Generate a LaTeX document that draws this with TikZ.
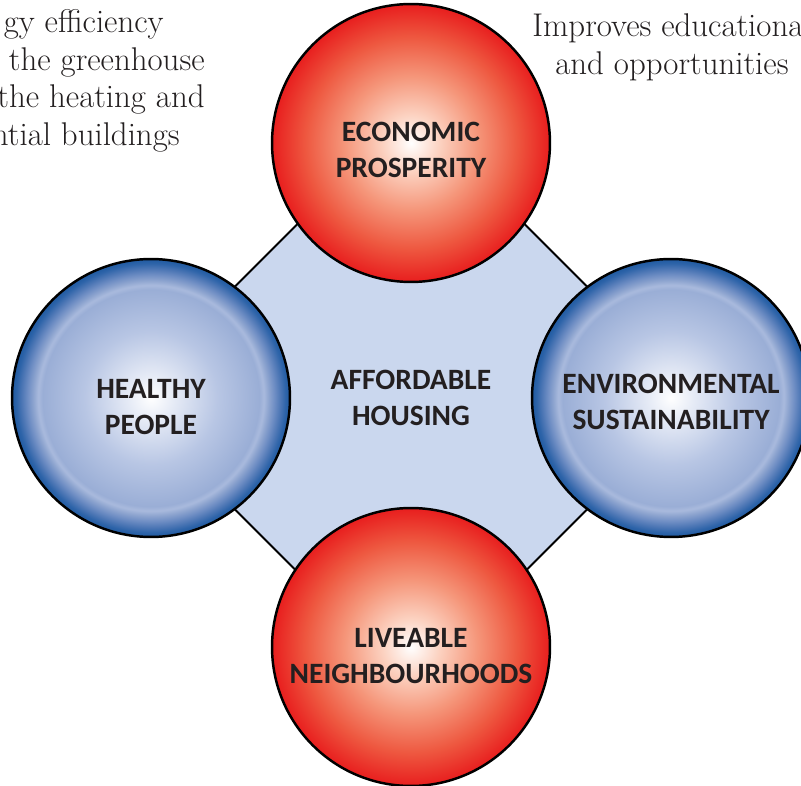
\documentclass[tikz,border=0pt]{standalone}
\usepackage{fontspec}
\newfontfamily\labelfont{Carlito}
\usetikzlibrary{shapes.geometric}

\definecolor{hubfill}{HTML}{CAD7EE}
\definecolor{inktext}{HTML}{231F20}
\definecolor{redA}{HTML}{FCD3C2}
\definecolor{redB}{HTML}{F5967A}
\definecolor{redC}{HTML}{EE5840}
\definecolor{redD}{HTML}{E81E1E}
\definecolor{blueA}{HTML}{E6EBF6}
\definecolor{blueB}{HTML}{B8C6E4}
\definecolor{blueC}{HTML}{9AAED6}
\definecolor{blueD}{HTML}{A9BADD}
\definecolor{blueE}{HTML}{8DA4CF}
\definecolor{blueF}{HTML}{6F8EC4}
\definecolor{blueG}{HTML}{4F78B6}
\definecolor{blueH}{HTML}{2E64A9}
\definecolor{blueI}{HTML}{1F5AA1}

\pgfdeclareradialshading{redball}{\pgfpoint{0bp}{0bp}}{color(0bp)=(white); color(5bp)=(redA); color(12bp)=(redB); color(19bp)=(redC); color(25bp)=(redD); color(50bp)=(redD)}
\pgfdeclareradialshading{blueball}{\pgfpoint{0bp}{0bp}}{color(0bp)=(white); color(4bp)=(blueA); color(12bp)=(blueB); color(19.5bp)=(blueC); color(20.3bp)=(blueD); color(21.2bp)=(blueE); color(22.2bp)=(blueF); color(23.2bp)=(blueG); color(24.2bp)=(blueH); color(25bp)=(blueI); color(50bp)=(blueI)}

\tikzset{
    ball/.style={circle, draw=black, line width=1.4pt, minimum size=5.56cm,
        inner sep=0pt},
    redball/.style={ball, shading=redball},
    blueball/.style={ball, shading=blueball},
    balltext/.style={align=center, text=inktext, inner sep=0pt,
        font=\labelfont\bfseries\fontsize{16.8}{20.4}\selectfont},
    hub/.style={diamond, draw=black, line width=1.1pt, fill=hubfill,
        minimum width=11.52cm, minimum height=11.52cm, inner sep=0pt,
        balltext},
    note/.style={inner sep=0pt, text=inktext, font=\fontsize{18.7}{21.6}\selectfont}
}

\begin{document}
\begin{tikzpicture}[x=0.02cm, y=-0.02cm]
    \useasboundingbox (0,0) rectangle (801,786);
    \clip (0,0) rectangle (801,786);

    \node[hub] (house) at (411,398) {AFFORDABLE\\HOUSING};

    \node[redball, label={[balltext, yshift=-4pt]center:ECONOMIC\\PROSPERITY}] (econ) at (411,143) {};
    \node[redball, label={[balltext, yshift=-5pt]center:LIVEABLE\\NEIGHBOURHOODS}] (live) at (411,647) {};
    \node[blueball, label={[balltext, yshift=-5pt]center:HEALTHY\\PEOPLE}] (health) at (151,398) {};
    \node[blueball, label={[balltext, yshift=-2pt]center:ENVIRONMENTAL\\SUSTAINABILITY}] (env) at (671,398) {};

    % text cut off at the page edges
    \node[note, anchor=base east] (left1) at (164,33) {gy efficiency};
    \node[note, anchor=base east] (left2) at (205,71) {the greenhouse};
    \node[note, anchor=base east] (left3) at (205,108) {the heating and};
    \node[note, anchor=base east] (left4) at (180,146) {ntial buildings};
    \node[note, anchor=base west] (right1) at (532,37) {Improves educationa};
    \node[note, anchor=base west] (right2) at (555,75) {and opportunities};
\end{tikzpicture}
\end{document}
